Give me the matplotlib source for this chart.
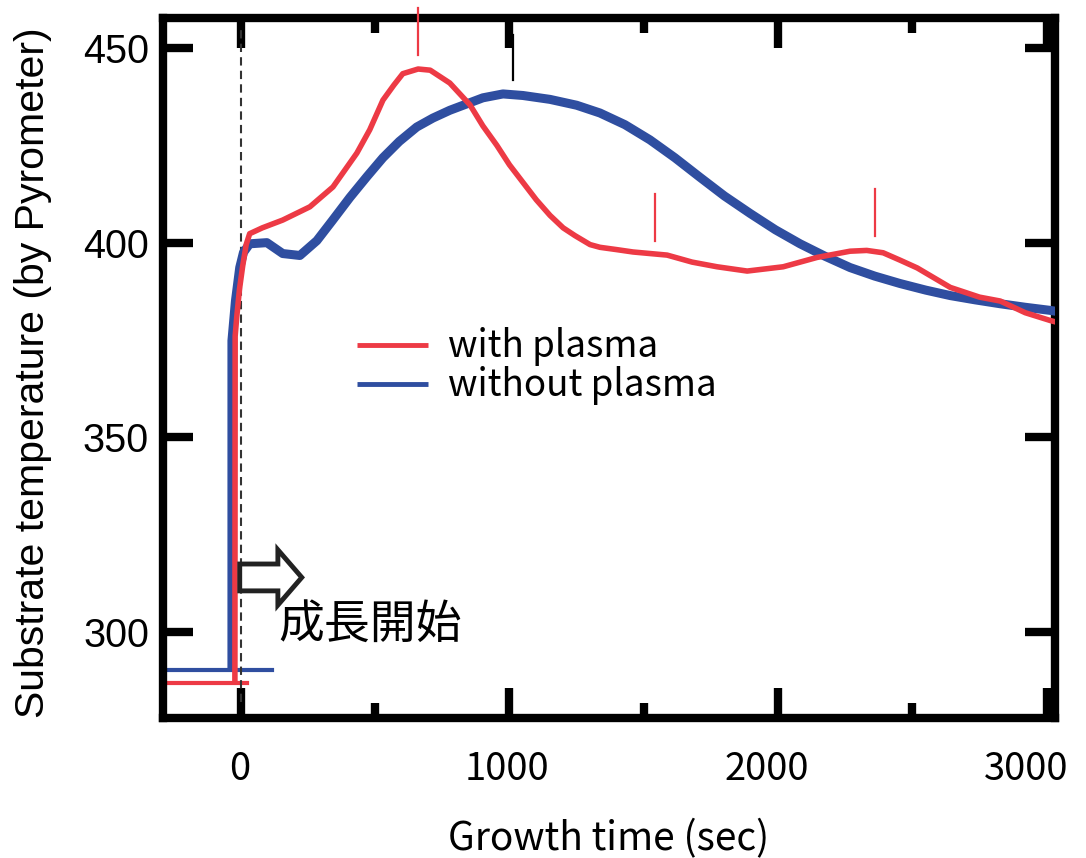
import numpy as np
import matplotlib
matplotlib.use("Agg")
import matplotlib.pyplot as plt
from matplotlib.patches import FancyArrow
from matplotlib.transforms import ScaledTranslation

# with plasma (red)
t_plasma = [-22, -21, -15, -5, 7, 20, 33, 80, 156, 257, 343, 432, 480, 529,
            570, 603, 660, 705, 778, 853, 901, 953, 1000, 1050, 1100, 1151,
            1200, 1244, 1300, 1337, 1400, 1460, 1587, 1680, 1773, 1885, 2019,
            2145, 2268, 2330, 2391, 2454, 2518, 2641, 2750, 2827, 2920, 3013,
            3040]
v_plasma = [287, 376, 381, 388, 394, 399.5, 402.3, 403.8, 405.8, 409.2, 414.3,
            423, 429, 436.6, 440.5, 443.4, 444.6, 444.3, 441, 435.4, 430, 425,
            420, 415.5, 411, 407, 403.8, 401.8, 399.5, 398.8, 398.2, 397.6,
            396.8, 395, 393.8, 392.7, 393.8, 396.2, 397.8, 398, 397.4, 395.5,
            393.5, 388.5, 386, 385, 382, 380, 379.5]

# without plasma (blue)
t_noplasma = [-33, -33, -20, -4, 10, 33, 97, 156, 220, 283, 340, 406, 470, 529,
              590, 655, 715, 778, 901, 976, 1050, 1151, 1250, 1337, 1430, 1523,
              1616, 1709, 1800, 1896, 1990, 2082, 2175, 2268, 2360, 2454, 2550,
              2641, 2734, 2827, 2920, 3013, 3040]
v_noplasma = [290, 374.8, 385, 393.6, 397.5, 399.7, 400, 397.2, 396.7, 400.5,
              405.6, 411.6, 417, 421.8, 426, 429.7, 432, 434, 437.2, 438.2,
              437.8, 436.8, 435.3, 433.3, 430.3, 426.4, 421.8, 416.8, 412,
              407.5, 403.3, 399.7, 396.5, 393.6, 391.4, 389.5, 387.8, 386.4,
              385.3, 384.3, 383.4, 382.6, 382.3]

# baseline (before growth) segments
base_plasma_t = [-290, 22]
base_plasma_v = [287, 287]
base_noplasma_t = [-280, 115]
base_noplasma_v = [290.2, 290.2]

# short marker lines: (time, v_low, v_high, colour)
markers = [(659, 448.2, 460.3, "#ED3A45"),
           (1013, 441.8, 453.3, "black"),
           (1542, 400.5, 412.6, "#ED3A45"),
           (2361, 401.8, 413.9, "#ED3A45")]

xticks = [0, 1000, 2000, 3000]
xtick_shift_px = [-1, -3, -11, -21]

RED = "#ED3A45"
BLUE = "#2F4EA0"
JP = ["Noto Sans CJK JP", "DejaVu Sans"]
ARIAL = ["Liberation Sans", "DejaVu Sans"]

fig = plt.figure(figsize=(10.86, 8.58), dpi=100)
ax = fig.add_axes([0.150, 0.1632, 0.8215, 0.8158])

ax.plot(base_plasma_t, base_plasma_v, color=RED, lw=3)
ax.plot(base_noplasma_t, base_noplasma_v, color=BLUE, lw=3)
ax.plot(t_noplasma, v_noplasma, color=BLUE, lw=6.5, solid_capstyle="butt",
        label="without plasma", zorder=3)
ax.plot(t_plasma, v_plasma, color=RED, lw=4, solid_capstyle="butt",
        label="with plasma", zorder=4)

ax.plot([0, 0], [282, 455], color="#333333", lw=1.5, ls=(0, (4, 2.5)), zorder=2)

for t, lo, hi, c in markers:
    ax.plot([t, t], [lo, hi], color=c, lw=1.6, clip_on=False, zorder=5)

arrow = FancyArrow(-4, 314, 231, 0, width=6.9, head_width=14.2,
                   head_length=89, length_includes_head=True,
                   facecolor="white", edgecolor="#222222", lw=3.5, zorder=6)
ax.add_patch(arrow)
ax.text(138, 301.8, "成長開始", fontsize=33, family=JP, va="center", ha="left")

ax.set_xlim(-290, 3031)
ax.set_ylim(277.9, 457.7)
ax.set_xticks(xticks)
ax.set_xticks([500, 1500, 2500], minor=True)
ax.set_yticks([300, 350, 400, 450])

for s in ax.spines.values():
    s.set_linewidth(6)
ax.tick_params(which="both", direction="in", top=True, right=True, width=6)
ax.tick_params(which="major", length=21.6)
ax.tick_params(which="minor", length=10.8)
ax.tick_params(axis="x", pad=23)
ax.tick_params(axis="y", pad=10)
for lab, dx in zip(ax.get_xticklabels(), xtick_shift_px):
    lab.set_family(JP)
    lab.set_fontsize(27.5)
    lab.set_transform(lab.get_transform()
                      + ScaledTranslation(dx / 100, 0, fig.dpi_scale_trans))
for lab in ax.get_yticklabels():
    lab.set_family(ARIAL)
    lab.set_fontsize(28.5)

ax.set_xlabel("Growth time (sec)", family=JP, fontsize=28, labelpad=22)
ax.set_ylabel("Substrate temperature (by Pyrometer)", family=ARIAL, fontsize=29.5)
ax.yaxis.set_label_coords(-0.124, 0.494)

handles, labels = ax.get_legend_handles_labels()
leg = ax.legend(handles[::-1], labels[::-1], loc="upper left",
                bbox_to_anchor=(0.2175, 0.558), frameon=False,
                prop={"family": JP, "size": 26.5}, handlelength=1.93,
                handletextpad=0.54, labelspacing=0.0, borderpad=0,
                borderaxespad=0)
for h in leg.get_lines():
    h.set_linewidth(3.5)

fig.savefig("out.png", dpi=100)
